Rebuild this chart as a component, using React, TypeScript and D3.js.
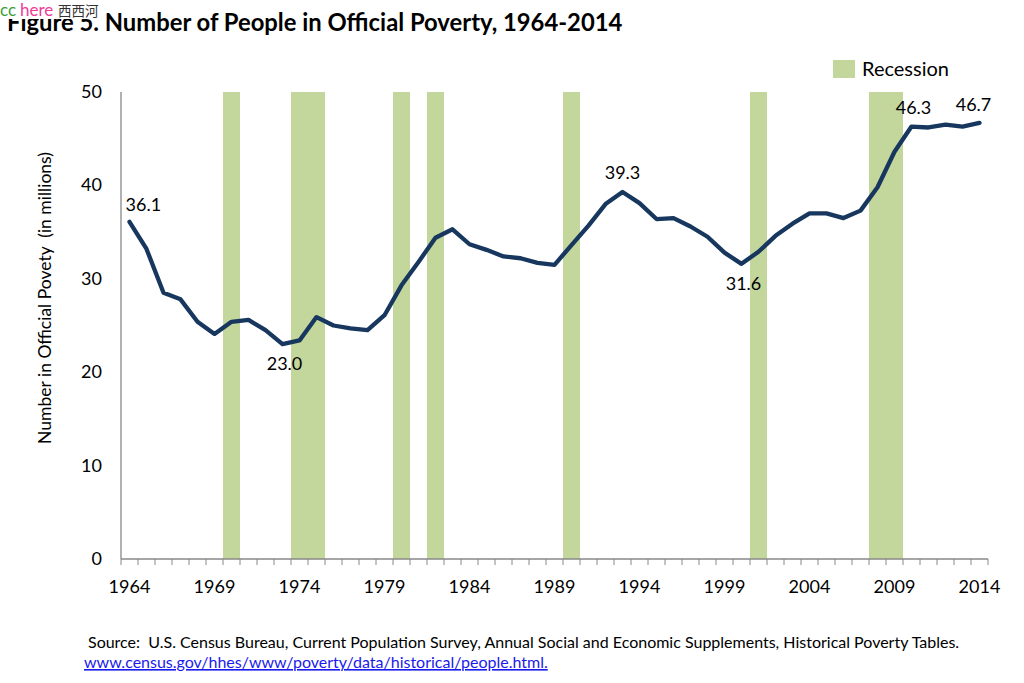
import React from "react";
import * as d3 from "d3";

const years: number[] = d3.range(1964, 2015);
const poverty: number[] = [
  36.1, 33.2, 28.5, 27.8, 25.4, 24.1, 25.4, 25.6, 24.5, 23.0,
  23.4, 25.9, 25.0, 24.7, 24.5, 26.1, 29.3, 31.8, 34.4, 35.3,
  33.7, 33.1, 32.4, 32.2, 31.7, 31.5, 33.6, 35.7, 38.0, 39.3,
  38.1, 36.4, 36.5, 35.6, 34.5, 32.8, 31.6, 32.9, 34.6, 35.9,
  37.0, 37.0, 36.5, 37.3, 39.8, 43.6, 46.3, 46.2, 46.5, 46.3, 46.7,
];
const recessionYears: number[] = [1970, 1974, 1975, 1980, 1982, 1990, 2001, 2008, 2009];
const labeledYears: number[] = [1964, 1973, 1993, 2000, 2010, 2014];
const yTicks: number[] = [0, 10, 20, 30, 40, 50];
const xTickLabels: number[] = [1964, 1969, 1974, 1979, 1984, 1989, 1994, 1999, 2004, 2009, 2014];

const W = 1024, H = 683;
const left = 121, right = 988, top = 92, bottom = 559;
const font = "Lato, 'Open Sans', sans-serif";

export default function App() {
  const x = d3.scaleBand<number>().domain(years).range([left, right]).padding(0);
  const xc = (yr: number) => (x(yr) as number) + x.bandwidth() / 2;
  const y = d3.scaleLinear().domain([0, 50]).range([bottom, top]);
  const line = d3.line<number>().x((_, i) => xc(years[i])).y((v) => y(v));

  const labelOffsets: Record<number, [number, number, string]> = {
    1964: [-4, -11, "start"],
    1973: [2, 26, "middle"],
    1993: [0, -13, "middle"],
    2000: [2, 26, "middle"],
    2010: [2, -13, "middle"],
    2014: [-6, -12, "middle"],
  };

  return (
    <svg width={W} height={H} style={{ position: "absolute", left: 0, top: 0, background: "#fff" }}>
      <rect x={0} y={0} width={W} height={H} fill="#fff" />
      <text x={7} y={31} fontFamily={font} fontWeight={700} fontSize={23.8} fill="#000">
        Figure 5. Number of People in Official Poverty, 1964-2014
      </text>
      <rect x={0} y={0} width={100} height={19} fill="#fff" />
      <text x={0} y={16} fontFamily={font} fontSize={17} fill="#3ca03c">cc</text>
      <text x={20} y={16} fontFamily={font} fontSize={17} fill="#ee3c96">here</text>
      <text x={58} y={16} fontFamily="'Noto Sans CJK SC', sans-serif" fontSize={13.5} fill="#333">西西河</text>

      {recessionYears.map((yr) => (
        <rect key={yr} x={x(yr)} y={top} width={x.bandwidth()} height={bottom - top} fill="#c3d69b" />
      ))}

      {/* y axis */}
      <line x1={left} x2={left} y1={top} y2={bottom} stroke="#888" strokeWidth={1.3} />
      {yTicks.map((t) => (
        <text key={t} x={102} y={y(t) + 6} textAnchor="end" fontFamily={font} fontSize={18} fill="#000">
          {t}
        </text>
      ))}
      {/* x axis */}
      <line x1={left} x2={right} y1={bottom} y2={bottom} stroke="#888" strokeWidth={1.3} />
      {years.map((yr) => (
        <line key={yr} x1={x(yr)} x2={x(yr)} y1={bottom} y2={bottom + 6} stroke="#888" strokeWidth={1} />
      ))}
      <line x1={right} x2={right} y1={bottom} y2={bottom + 6} stroke="#888" strokeWidth={1} />
      {xTickLabels.map((yr) => (
        <text key={yr} x={xc(yr)} y={593} textAnchor="middle" fontFamily={font} fontSize={18} fill="#000">
          {yr}
        </text>
      ))}

      <text
        transform={`translate(51,298) rotate(-90)`}
        textAnchor="middle"
        fontFamily={font}
        fontSize={17.5}
        fill="#000"
        style={{ whiteSpace: "pre" }}
      >
        {"Number in Official Povety\u00a0\u00a0(in millions)"}
      </text>

      <path d={line(poverty) || ""} fill="none" stroke="#17375e" strokeWidth={4.3} strokeLinejoin="round" strokeLinecap="round" />

      {labeledYears.map((yr) => {
        const v = poverty[years.indexOf(yr)];
        const [dx, dy, anchor] = labelOffsets[yr];
        return (
          <text key={yr} x={xc(yr) + dx} y={y(v) + dy} textAnchor={anchor as any} fontFamily={font} fontSize={18} fill="#000">
            {v.toFixed(1)}
          </text>
        );
      })}

      {/* legend */}
      <rect x={833} y={60} width={22} height={18} fill="#c3d69b" />
      <text x={862} y={76} fontFamily={font} fontSize={20} fill="#000">Recession</text>

      <text x={88} y={648} fontFamily={font} fontSize={16} fill="#000" style={{ whiteSpace: "pre" }}>
        {"Source:\u00a0\u00a0U.S. Census Bureau, Current Population Survey, Annual Social and Economic Supplements, Historical Poverty Tables."}
      </text>
      <text x={84} y={668} fontFamily={font} fontSize={16} fill="#1a1aee" textDecoration="underline">
        www.census.gov/hhes/www/poverty/data/historical/people.html.
      </text>
    </svg>
  );
}
